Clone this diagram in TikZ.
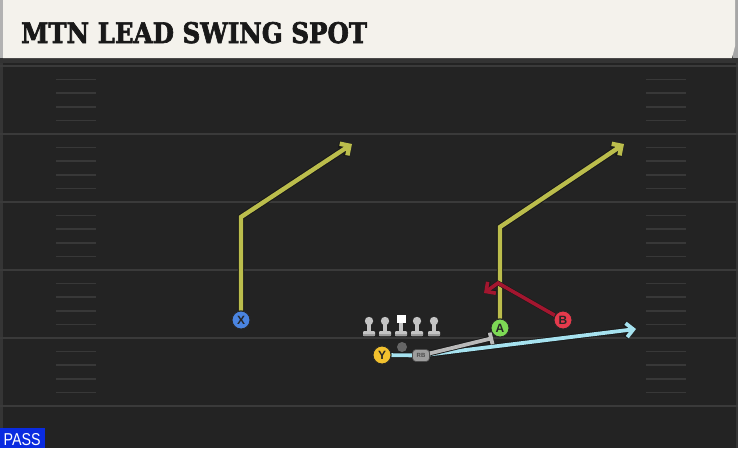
\documentclass[tikz,border=0pt]{standalone}
\usepackage{fontspec}
\usetikzlibrary{arrows.meta}
\newfontfamily\titlefont{DejaVu Serif}[BoldFeatures={FakeBold=2.5}]
\newfontfamily\labelfont{Liberation Sans}
\definecolor{fieldbg}{HTML}{232323}
\definecolor{yardc}{HTML}{3A3A3A}
\definecolor{hashc}{HTML}{383838}
\definecolor{creamc}{HTML}{F4F2EC}
\definecolor{olivec}{HTML}{BBBD4C}
\definecolor{redroute}{HTML}{A3162F}
\definecolor{blueroute}{HTML}{A6E2EF}
\definecolor{greyroute}{HTML}{B9B9B9}
\definecolor{xblue}{HTML}{4A84E0}
\definecolor{agreen}{HTML}{7DDA55}
\definecolor{bred}{HTML}{E53A4C}
\definecolor{yyellow}{HTML}{F2C12E}
\definecolor{passblue}{HTML}{0A2BE0}
\definecolor{lmgrey}{HTML}{C4C4C4}
\pgfdeclarelayer{field}
\pgfdeclarelayer{routes}
\pgfsetlayers{field,routes,main}
\tikzset{
  yardline/.style={draw=yardc, line width=2pt},
  hashline/.style={draw=hashc, line width=1.6pt},
  outl/.style={draw=black!90, line width=6.4pt},
  oliveline/.style={draw=olivec, line width=4.4pt},
  redline/.style={draw=redroute, line width=3.6pt},
  blueline/.style={draw=blueroute, line width=3.8pt},
  greyline/.style={draw=greyroute, line width=3.8pt},
  barbtip/.style={-{Straight Barb[length=7pt,width=14pt]}},
  bartip/.style={-{Bar[width=12pt]}},
  player/.style={circle, draw=black!85, line width=0.9pt, minimum size=18pt, inner sep=0pt,
    font=\labelfont\bfseries\fontsize{12}{12}\selectfont, text=black!85},
  rbbox/.style={fill=lmgrey!80!black, draw=black!70, line width=0.7pt, rounded corners=3.5pt,
    minimum width=17pt, minimum height=12pt, inner sep=0pt,
    font=\labelfont\bfseries\fontsize{6}{6}\selectfont, text=black!70},
  qbdot/.style={circle, fill=black!60, minimum size=10pt, inner sep=0pt},
  pics/lineman/.style={code={
    \fill[lmgrey] (-2,2) rectangle (2,11);
    \fill[lmgrey, rounded corners=1pt] (-6,10) rectangle (6,15);
    \fill[lmgrey!80!black] (-6,13.3) rectangle (6,15);
    \fill[lmgrey] (0,0) circle (4.2);
  }},
  pics/centerman/.style={code={
    \fill[lmgrey] (-2,2) rectangle (2,11);
    \fill[lmgrey, rounded corners=1pt] (-6,10) rectangle (6,15);
    \fill[lmgrey!80!black] (-6,13.3) rectangle (6,15);
    \fill[white] (-4.5,-6.5) rectangle (4.5,2);
  }}
}
\begin{document}
\begin{tikzpicture}[x=1pt,y=-1pt]
\useasboundingbox (0,0) rectangle (738,448);
\begin{pgfonlayer}{field}
  \fill[fieldbg] (0,0) rectangle (738,448);
  \fill[yardc!80!fieldbg] (0,60) rectangle (2.5,448);
  \fill[yardc!80!fieldbg] (735.5,60) rectangle (738,448);
  \foreach \yy in {66,134,202,270,338,406}{
    \draw[yardline] (0,\yy) -- (738,\yy);
  }
  \foreach \yy in {66,134,202,270,338}{
    \foreach \k in {1,2,3,4}{
      \draw[hashline] (56,{\yy+13.6*\k}) -- (96,{\yy+13.6*\k});
      \draw[hashline] (646,{\yy+13.6*\k}) -- (686,{\yy+13.6*\k});
    }
  }
  % header
  \fill[black!80] (0,55) rectangle (738,63);
  \fill[black!35] (733,0) rectangle (738,58);
  \fill[creamc] (3,0) -- (735,0) -- (735,46) -- (732,58) -- (3,58) -- cycle;
  \fill[black!30] (0,0) rectangle (3,58);
\end{pgfonlayer}

\node[anchor=base west, inner sep=0pt, text=black!90] (title) at (21,43)
  {\resizebox{346pt}{21pt}{\titlefont\bfseries MTN LEAD SWING SPOT}};

\fill[passblue] (0,428) rectangle (45,448);
\node[anchor=base west, inner sep=0pt, text=white] (pass) at (3.5,445)
  {\resizebox{37pt}{12pt}{\labelfont PASS}};

% line
\pic at (369,321) {lineman};
\pic at (385,321) {lineman};
\pic at (401,321) {centerman};
\pic at (417,321) {lineman};
\pic at (434,321) {lineman};

% players
\node[player, fill=xblue] (X) at (241,320) {X};
\node[player, fill=agreen] (A) at (500,328) {A};
\node[player, fill=bred] (B) at (563,320) {B};
\node[player, fill=yyellow] (Y) at (382,355) {Y};
\node[qbdot] (QB) at (402,347) {};
\node[rbbox] (RB) at (421,355.5) {RB};

\coordinate (xc) at (241,217);
\coordinate (xt) at (352,144);
\coordinate (ac) at (500,227);
\coordinate (at) at (624,144);
\coordinate (bc) at (498,283);
\coordinate (bt) at (484,293);
\coordinate (yt) at (636,329);
\coordinate (gt) at (493,338);

\begin{pgfonlayer}{routes}
  \draw[outl, barbtip] (X) -- (xc) -- (xt);
  \draw[oliveline, barbtip] (X) -- (xc) -- (xt);
  \draw[outl, barbtip] (A) -- (ac) -- (at);
  \draw[oliveline, barbtip] (A) -- (ac) -- (at);
  \draw[draw=black!90, line width=4.6pt, barbtip] (B) -- (bc) -- (bt);
  \draw[redline, barbtip] (B) -- (bc) -- (bt);
  \draw[draw=black!90, line width=5.6pt, barbtip] (Y) -- (RB.center) -- (yt);
  \draw[blueline, barbtip] (Y) -- (RB.center) -- (yt);
  \draw[draw=black!90, line width=5.6pt, bartip] (RB) -- (gt);
  \draw[greyline, bartip] (RB) -- (gt);
\end{pgfonlayer}
\end{tikzpicture}
\end{document}
